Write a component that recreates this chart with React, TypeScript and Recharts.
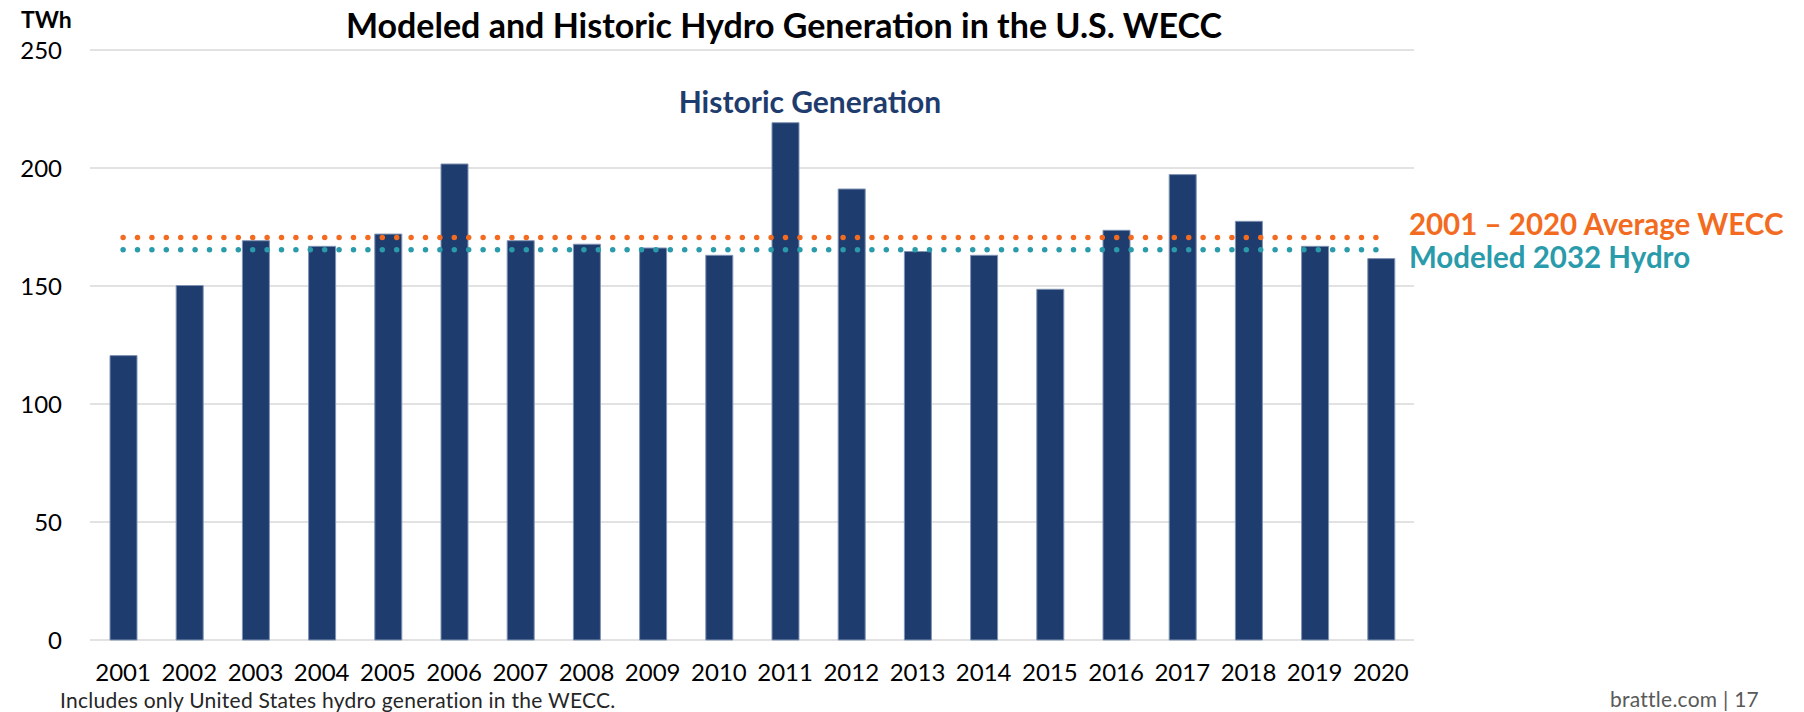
import React from 'react';
import { ComposedChart, Bar, Line, XAxis, YAxis, CartesianGrid } from 'recharts';

// values (TWh)
const years = ['2001', '2002', '2003', '2004', '2005', '2006', '2007', '2008', '2009', '2010',
  '2011', '2012', '2013', '2014', '2015', '2016', '2017', '2018', '2019', '2020'];
const historic = [120.5, 150.2, 169.2, 166.8, 172.0, 201.7, 169.2, 167.7, 166.1, 163.0,
  219.2, 191.1, 164.6, 163.0, 148.6, 173.6, 197.2, 177.4, 166.8, 161.6];
const averageWecc = 170.6;
const modeled2032 = 165.4;
const yTicks = [0, 50, 100, 150, 200, 250];

const NAVY = '#1f3c6e';
const ORANGE = '#f26b21';
const TEAL = '#2a9bab';
const FONT = 'Lato, "Open Sans", sans-serif';

const data = years.map((y, i) => ({
  year: y,
  historic: historic[i],
  avg: averageWecc,
  modeled: modeled2032,
}));

const lastIdx = years.length - 1;

// series name written at the right end of each dotted line
const endLabel = (text: string, color: string, dy: number) => (props: any) => {
  const { x, y, index } = props;
  if (index !== lastIdx) return null;
  return (
    <text x={x + 28} y={y + dy} fill={color} fontFamily={FONT} fontWeight={700} fontSize={29.5}>
      {text}
    </text>
  );
};

export default function App() {
  return (
    <div style={{ position: 'absolute', left: 0, top: 0, width: 1804, height: 712, background: '#fff' }}>
      <ComposedChart
        width={1804}
        height={712}
        data={data}
        margin={{ top: 50, right: 390, bottom: 0, left: 0 }}
        barCategoryGap="30%"
      >
        <CartesianGrid vertical={false} stroke="#d9d9d9" strokeWidth={1.5} />
        <XAxis
          dataKey="year"
          height={72}
          axisLine={false}
          tickLine={false}
          tickSize={0}
          tickMargin={24}
          interval={0}
          tick={{ fill: '#000', fontFamily: FONT, fontSize: 24 }}
        />
        <YAxis
          width={90}
          domain={[0, 250]}
          ticks={yTicks}
          axisLine={false}
          tickLine={false}
          tickSize={0}
          tickMargin={28}
          tick={{ fill: '#000', fontFamily: FONT, fontSize: 24 }}
        />
        <Bar dataKey="historic" fill={NAVY} stroke="#7f93b3" strokeWidth={1} barSize={27} isAnimationActive={false} />
        <Line
          type="linear"
          dataKey="avg"
          stroke={ORANGE}
          strokeWidth={5.5}
          strokeDasharray="0 14.4"
          strokeLinecap="round"
          dot={false}
          activeDot={false}
          isAnimationActive={false}
          label={endLabel('2001 \u2013 2020 Average WECC', ORANGE, -2)}
        />
        <Line
          type="linear"
          dataKey="modeled"
          stroke={TEAL}
          strokeWidth={5.5}
          strokeDasharray="0 14.4"
          strokeLinecap="round"
          dot={false}
          activeDot={false}
          isAnimationActive={false}
          label={endLabel('Modeled 2032 Hydro', TEAL, 18)}
        />
      </ComposedChart>
      <svg width={1804} height={712} style={{ position: 'absolute', left: 0, top: 0, pointerEvents: 'none' }}>
        <text x={784} y={38} textAnchor="middle" fontFamily={FONT} fontWeight={700} fontSize={34} fill="#000">
          Modeled and Historic Hydro Generation in the U.S. WECC
        </text>
        <text x={21} y={28} fontFamily={FONT} fontWeight={700} fontSize={23} fill="#000">TWh</text>
        <text x={810} y={113} textAnchor="middle" fontFamily={FONT} fontWeight={700} fontSize={30} fill={NAVY}>
          Historic Generation
        </text>
        <text x={60} y={708} fontFamily={FONT} fontSize={21} letterSpacing={0.25} fill="#262626">
          Includes only United States hydro generation in the WECC.
        </text>
        <text x={1759} y={707} textAnchor="end" fontFamily={FONT} fontSize={21} letterSpacing={0.25} fill="#595959">
          brattle.com | 17
        </text>
      </svg>
    </div>
  );
}
